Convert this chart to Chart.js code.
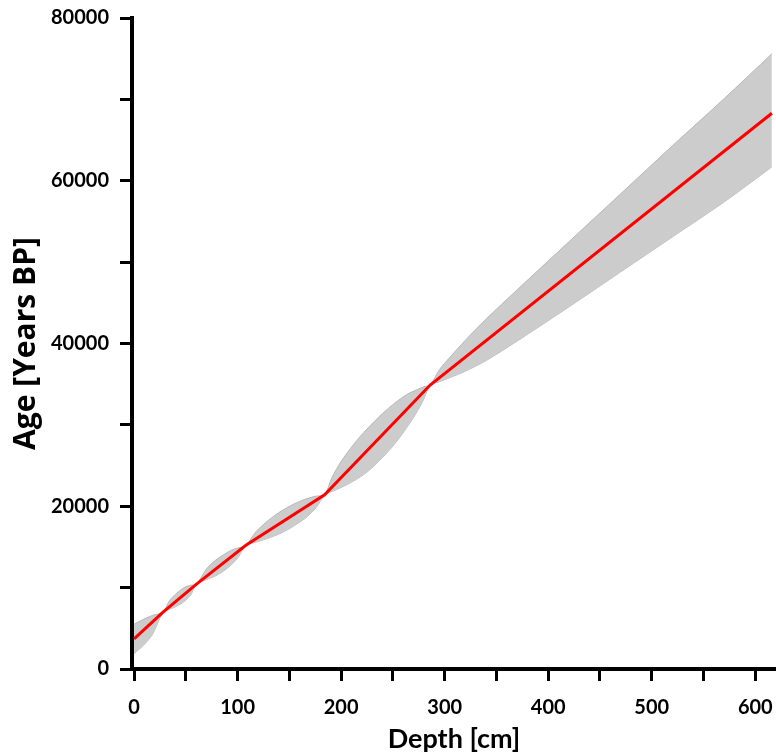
<!DOCTYPE html>
<html>
<head>
<meta charset="utf-8">
<script src="https://cdn.jsdelivr.net/npm/chart.js@4"></script>
<style>
  body { margin: 0; background: #fff; }
  canvas { display: block; }
</style>
</head>
<body>
<canvas id="ageChart" width="776" height="755"></canvas>
<script>
// age model: median line (knots) and uncertainty envelope
const lineDepth = [0, 28, 60, 108, 184, 286, 616];
const lineAge   = [3700, 7000, 10400, 15200, 21400, 34900, 68300];

const bandDepth = [0, 9, 18, 28, 34, 41, 49, 55, 60, 70, 78, 86, 94, 101, 108,
                   118, 130, 142, 154, 166, 176, 184, 191, 200, 212, 225, 240, 252, 263,
                   272, 280, 286, 295, 305, 320, 340, 370, 420, 470, 520, 570, 616];
const bandUpper = [5500, 6100, 6600, 7000, 8350, 9300, 10050, 10300, 10400, 12300, 13300, 14000, 14600, 14900, 15200,
                   16900, 18300, 19400, 20250, 20900, 21250, 21400, 23500, 25500, 27600, 29500, 31400, 32700, 33700,
                   34250, 34700, 34900, 36800, 38300, 40400, 43000, 46600, 52500, 58400, 64300, 70100, 75600];
const bandLower = [1900, 2900, 4300, 7000, 7350, 7700, 8350, 9150, 10400, 11000, 11400, 12000, 12800, 13800, 15200,
                   15600, 16100, 16700, 17550, 18600, 19850, 21400, 21800, 22300, 23100, 24200, 26000, 27700, 29600,
                   31350, 33200, 34900, 35300, 35800, 36600, 37900, 40300, 44500, 48800, 53100, 57400, 61700];

const xTicks = [0, 50, 100, 150, 200, 250, 300, 350, 400, 450, 500, 550, 600];
const yTicks = [0, 10000, 20000, 30000, 40000, 50000, 60000, 70000, 80000];

function pts(xs, ys) {
  return xs.map((x, i) => ({ x: x, y: ys[i] }));
}

let ctx = document.getElementById("ageChart");
let tickFont = { family: 'Lato', size: 20, weight: 'bold' };

let config = {
  type: 'line',
  data: {
    datasets: [{
      label: 'median',
      data: pts(lineDepth, lineAge),
      borderColor: '#ff0000',
      borderWidth: 3,
      fill: false,
      pointRadius: 0,
      order: 0,
    }, {
      label: 'upper',
      data: pts(bandDepth, bandUpper),
      borderColor: '#b8b8b8',
      borderWidth: 1,
      backgroundColor: '#cccccc',
      fill: '+1',
      pointRadius: 0,
      tension: 0.3,
      order: 1,
    }, {
      label: 'lower',
      data: pts(bandDepth, bandLower),
      borderColor: '#b8b8b8',
      borderWidth: 1,
      fill: false,
      pointRadius: 0,
      tension: 0.3,
      order: 2,
    }],
  },
  options: {
    responsive: false,
    animation: false,
    layout: { padding: { top: 18, right: 0, left: 0, bottom: 0 } },
    plugins: { legend: { display: false }, tooltip: { enabled: false } },
    scales: {
      x: {
        type: 'linear',
        min: -2,
        max: 620,
        afterBuildTicks: (axis) => { axis.ticks = xTicks.map(v => ({ value: v })); },
        afterFit: (axis) => { axis.height = 86; axis.paddingLeft = 0; axis.paddingRight = 0; },
        border: { display: true, color: '#000', width: 4 },
        grid: { drawOnChartArea: false, drawTicks: true, tickLength: 12, tickWidth: 3, tickColor: '#000' },
        ticks: {
          color: '#000',
          font: tickFont,
          padding: 15,
          autoSkip: false,
          maxRotation: 0,
          callback: (v) => (v % 100 === 0 ? String(v) : ''),
        },
        title: {
          display: true, text: 'Depth [cm]', color: '#000',
          font: { family: 'Lato', size: 27, weight: 'bold' },
          padding: { top: 0, bottom: 0 },
        },
      },
      y: {
        type: 'linear',
        min: 0,
        max: 80000,
        afterBuildTicks: (axis) => { axis.ticks = yTicks.map(v => ({ value: v })); },
        afterFit: (axis) => { axis.width = 132; axis.paddingTop = 0; axis.paddingBottom = 0; },
        border: { display: true, color: '#000', width: 4 },
        grid: { drawOnChartArea: false, drawTicks: true, tickLength: 12, tickWidth: 3, tickColor: '#000' },
        ticks: {
          color: '#000',
          font: tickFont,
          padding: 11,
          autoSkip: false,
          callback: (v) => (v % 20000 === 0 ? String(v) : ''),
        },
        title: {
          display: true, text: 'Age [Years BP]', color: '#000',
          font: { family: 'Open Sans', size: 30, weight: 'bold' },
          padding: { top: 8, bottom: 4 },
        },
      },
    },
  },
};

window.ageChartInstance = new Chart(ctx, config);
</script>
</body>
</html>
